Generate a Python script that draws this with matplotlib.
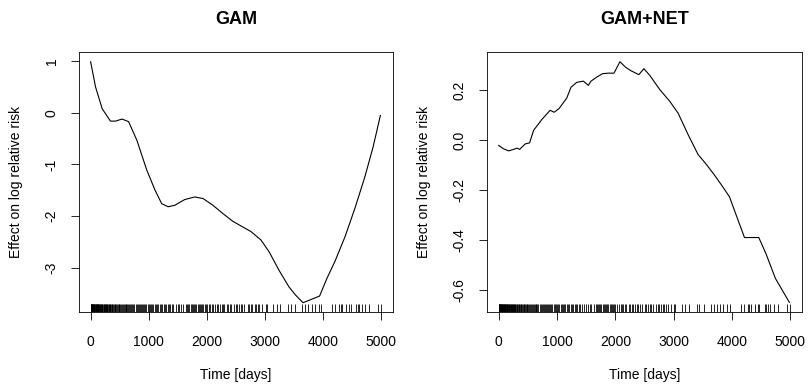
# GAM vs GAM+NET time effect curves with rug of event times
import numpy as np
import matplotlib
matplotlib.use("Agg")
import matplotlib.pyplot as plt
import matplotlib.transforms as mtransforms

plt.rcParams["font.family"] = ["Liberation Sans", "DejaVu Sans"]
plt.rcParams["axes.unicode_minus"] = False

# left panel: smooth GAM effect
gam_days = [0, 85, 199, 341, 426, 540, 653, 795, 966, 1108, 1222, 1335, 1449,
            1619, 1790, 1932, 2102, 2273, 2443, 2614, 2756, 2926, 3068, 3239,
            3409, 3523, 3653, 3807, 3938, 4063, 4205, 4375, 4545, 4716, 4858, 4983]
gam_effect = [0.99, 0.50, 0.08, -0.16, -0.16, -0.12, -0.17, -0.53, -1.11, -1.50,
              -1.76, -1.82, -1.79, -1.68, -1.63, -1.66, -1.79, -1.95, -2.10, -2.21,
              -2.30, -2.46, -2.69, -3.05, -3.37, -3.53, -3.68, -3.61, -3.55, -3.21,
              -2.87, -2.40, -1.85, -1.24, -0.66, -0.05]

# right panel: GAM+NET effect
net_days = [0, 85, 171, 256, 313, 359, 399, 456, 530, 598, 740, 883, 951, 1036,
            1167, 1241, 1338, 1452, 1538, 1583, 1680, 1782, 1879, 1976, 2079, 2175,
            2266, 2403, 2489, 2591, 2762, 2933, 3075, 3246, 3417, 3559, 3702, 3844,
            3958, 4083, 4214, 4459, 4584, 4744, 4858, 4983]
net_effect = [-0.021, -0.035, -0.043, -0.037, -0.032, -0.037, -0.028, -0.015, -0.011,
              0.039, 0.083, 0.120, 0.112, 0.127, 0.169, 0.213, 0.232, 0.237, 0.220,
              0.237, 0.253, 0.267, 0.269, 0.269, 0.315, 0.293, 0.279, 0.263, 0.287,
              0.260, 0.203, 0.156, 0.109, 0.023, -0.057, -0.097, -0.141, -0.188,
              -0.228, -0.308, -0.391, -0.391, -0.457, -0.555, -0.601, -0.651]

# observed times (rug)
rug_days = [2, 6, 10, 14, 18, 22, 26, 30, 35, 40, 45, 50, 55, 60, 66, 72, 78, 84,
            90, 96, 102, 108, 114, 121, 128, 135, 142, 149, 156, 164, 172, 180, 188,
            196, 204, 213, 222, 231, 240, 249, 258, 268, 278, 288, 298, 308, 319, 330,
            341, 352, 364, 376, 388, 400, 413, 426, 439, 452, 466, 480, 494, 508, 523,
            538, 553, 568, 584, 600, 616, 632, 648, 665, 682, 700, 718, 736, 754, 772,
            790, 808, 826, 845, 864, 883, 902, 921, 940, 960, 980, 1000, 1020, 1040,
            1060, 1080, 1100, 1122, 1144, 1166, 1188, 1210, 1232, 1255, 1278, 1301,
            1324, 1347, 1370, 1395, 1420, 1470, 1500, 1525, 1560, 1590, 1640, 1660,
            1680, 1700, 1720, 1740, 1760, 1780, 1800, 1820, 1840, 1860, 1880, 1900,
            1920, 1940, 1960, 1980, 2000, 2030, 2060, 2090, 2110, 2140, 2165, 2190,
            2230, 2255, 2280, 2300, 2340, 2370, 2390, 2420, 2460, 2500, 2520, 2560,
            2590, 2610, 2640, 2700, 2730, 2750, 2780, 2820, 2840, 2870, 2900, 2950,
            3010, 3030, 3140, 3200, 3260, 3400, 3440, 3520, 3640, 3690, 3740, 3800,
            3850, 3920, 3960, 4150, 4210, 4270, 4300, 4330, 4390, 4440, 4470, 4560,
            4590, 4620, 4660, 4720, 4790, 4950, 4990]

x_ticks = [0, 1000, 2000, 3000, 4000, 5000]
gam_yticks = [1, 0, -1, -2, -3]
net_yticks = [0.2, 0.0, -0.2, -0.4, -0.6]

W, H = 810, 384
fig = plt.figure(figsize=(W / 100, H / 100), dpi=100)
ax1 = fig.add_axes([79 / W, 72 / H, 314 / W, 260 / H])
ax2 = fig.add_axes([487 / W, 72 / H, 315 / W, 260 / H])


def panel(ax, x, y, title, yticks, ylabels, ylim):
    ax.plot(x, y, color="black", lw=0.8)
    trans = mtransforms.blended_transform_factory(ax.transData, ax.transAxes)
    ax.vlines(rug_days, 0, 0.03, transform=trans, color="black", lw=0.6)
    ax.set_xlim(-200, 5200)
    ax.set_ylim(*ylim)
    ax.set_xticks(x_ticks)
    ax.set_xticklabels([str(t) for t in x_ticks])
    ax.set_yticks(yticks)
    ax.set_yticklabels(ylabels, rotation=90, va="center")
    ax.tick_params(length=5.5, width=0.6, labelsize=10, direction="out")
    ax.tick_params(axis="x", pad=11)
    ax.tick_params(axis="y", pad=9)
    for s in ax.spines.values():
        s.set_linewidth(0.6)
    ax.set_title(title, fontsize=13, fontweight="bold", pad=20)
    ax.set_xlabel("Time [days]", fontsize=10, labelpad=14)
    ax.set_ylabel("Effect on log relative risk", fontsize=10, labelpad=16)


panel(ax1, gam_days, gam_effect, "GAM", gam_yticks,
      [str(t) for t in gam_yticks], (-3.86, 1.18))
panel(ax2, net_days, net_effect, "GAM+NET", net_yticks,
      ["%.1f" % t for t in net_yticks], (-0.69, 0.354))

fig.savefig("out.png", dpi=100)
